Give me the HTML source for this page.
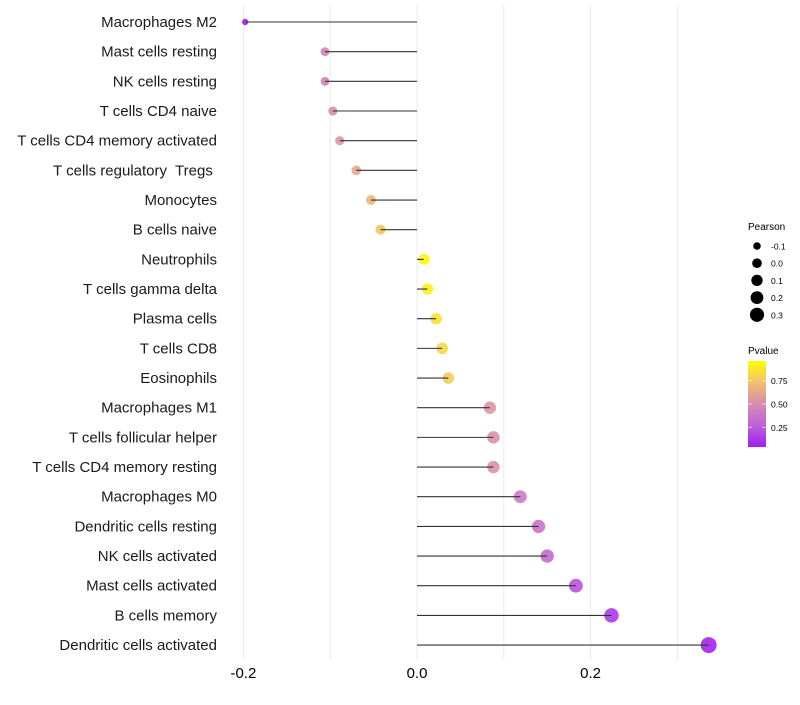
<!DOCTYPE html>
<html><head><meta charset="utf-8"><style>
body{margin:0;background:#fff;font-family:"Liberation Sans",sans-serif}
text{white-space:pre}
</style></head><body>
<svg id="c" width="800" height="700" xmlns="http://www.w3.org/2000/svg"></svg>
<script>
const categories=["Macrophages M2","Mast cells resting","NK cells resting","T cells CD4 naive","T cells CD4 memory activated","T cells regulatory  Tregs ","Monocytes","B cells naive","Neutrophils","T cells gamma delta","Plasma cells","T cells CD8","Eosinophils","Macrophages M1","T cells follicular helper","T cells CD4 memory resting","Macrophages M0","Dendritic cells resting","NK cells activated","Mast cells activated","B cells memory","Dendritic cells activated"];
const pearson=[-0.198,-0.106,-0.106,-0.097,-0.089,-0.070,-0.053,-0.042,0.008,0.012,0.022,0.029,0.036,0.084,0.088,0.088,0.119,0.140,0.150,0.183,0.224,0.336];
const pvalues=[0.0,0.45,0.45,0.5,0.55,0.62,0.7,0.77,0.97,0.94,0.88,0.84,0.8,0.55,0.54,0.54,0.4,0.35,0.3,0.2,0.1,0.02];
const xTicks=[-0.2,0.0,0.2];
const xGrid=[-0.2,-0.1,0,0.1,0.2,0.3];
const sizeLegend=[-0.1,0.0,0.1,0.2,0.3];
const pTicks=[0.25,0.50,0.75];

const NS="http://www.w3.org/2000/svg";
const svg=document.getElementById('c');
const xs=v=>417+v*868;
const ys=i=>22+i*29.67;
const rad=v=>Math.sqrt(Math.max(1.5,30+100*v));
const radL=v=>Math.sqrt(Math.max(1.5,23.2+89.6*v));
const stops=[[0,[160,32,240]],[0.25,[192,96,216]],[0.5,[216,140,176]],[0.75,[240,192,112]],[1,[255,255,0]]];
function col(p){for(let i=0;i<stops.length-1;i++){const a=stops[i],b=stops[i+1];if(p<=b[0]){const t=(p-a[0])/(b[0]-a[0]);return 'rgb('+a[1].map((c,k)=>Math.round(c+(b[1][k]-c)*t)).join(',')+')';}}return 'rgb(255,255,0)';}
function mk(t,a,p){const e=document.createElementNS(NS,t);for(const k in a)e.setAttribute(k,a[k]);(p||svg).appendChild(e);return e;}

xGrid.forEach(v=>{
const g=mk('line',{x1:xs(v),x2:xs(v),y1:5,y2:660,stroke:'#ebebeb','stroke-width':1});


});
xTicks.forEach(v=>{
const t=mk('text',{x:xs(v),y:678,'text-anchor':'middle','font-size':15,fill:'#000'});
t.textContent=v.toFixed(1);


});
categories.forEach((c,i)=>{
const y=ys(i);
const t=mk('text',{x:217,y:y+5,'text-anchor':'end','font-size':15,fill:'#1a1a1a'});
t.textContent=c;


const pt=mk('circle',{cx:xs(pearson[i]),cy:y,r:rad(pearson[i]),fill:col(pvalues[i]),'fill-opacity':0.9});


const ln=mk('line',{x1:xs(0),x2:xs(pearson[i]),y1:y,y2:y,stroke:'#333','stroke-width':1.1});


});
const lt=mk('text',{x:748,y:230,'font-size':10,fill:'#000'});lt.textContent='Pearson';


sizeLegend.forEach((v,i)=>{
const y=246+i*17.2;
const c=mk('circle',{cx:757,cy:y,r:radL(v),fill:'#000'});


const t=mk('text',{x:771,y:y+3.5,'font-size':8.5,fill:'#000'});t.textContent=v.toFixed(1);


});
const pt2=mk('text',{x:748,y:354,'font-size':10,fill:'#000'});pt2.textContent='Pvalue';


const defs=mk('defs',{});const lg=mk('linearGradient',{id:'pg',x1:0,y1:1,x2:0,y2:0},defs);
stops.forEach(s=>mk('stop',{offset:s[0],'stop-color':col(s[0])},lg));
const barTop=361,barBot=447;
const bar=mk('rect',{x:748,y:barTop,width:18,height:barBot-barTop,fill:'url(#pg)'});


pTicks.forEach(p=>{
const y=barBot-(p-0.04)/(0.92)*(barBot-barTop);
mk('line',{x1:748,x2:752,y1:y,y2:y,stroke:'#fff','stroke-opacity':0.6});
mk('line',{x1:762,x2:766,y1:y,y2:y,stroke:'#fff','stroke-opacity':0.6});
const t=mk('text',{x:771,y:y+3.5,'font-size':8.5,fill:'#000'});t.textContent=p.toFixed(2);


});
</script>
</body></html>
